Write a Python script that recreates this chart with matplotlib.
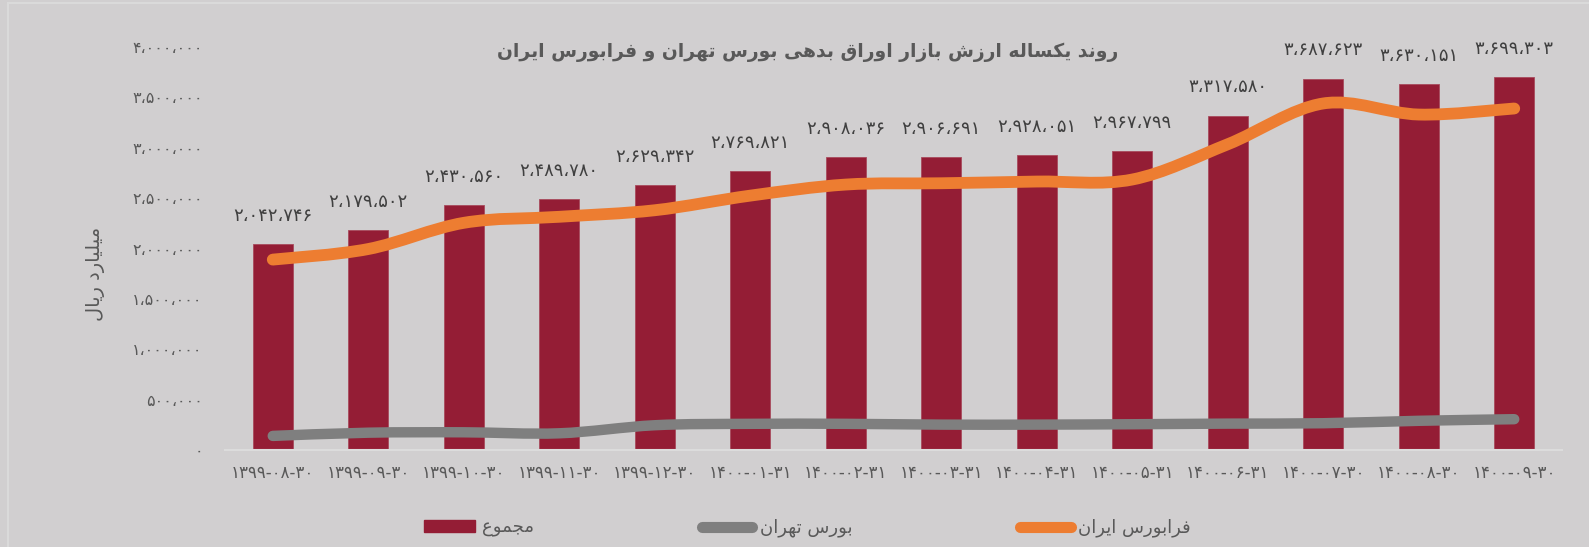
import numpy as np
import matplotlib.pyplot as plt
from matplotlib.path import Path
from matplotlib.patches import PathPatch, Rectangle
from matplotlib.lines import Line2D

plt.rcParams['font.family'] = ['DejaVu Sans']

# data (billion rials)
dates = ['1399-08-30', '1399-09-30', '1399-10-30', '1399-11-30', '1399-12-30',
         '1400-01-31', '1400-02-31', '1400-03-31', '1400-04-31', '1400-05-31',
         '1400-06-31', '1400-07-30', '1400-08-30', '1400-09-30']
total = [2042746, 2179502, 2430560, 2489780, 2629342, 2769821, 2908036,
         2906691, 2928051, 2967799, 3317580, 3687623, 3630151, 3699303]
tehran = [140000, 172000, 176000, 166000, 246000, 260000, 260000,
          252000, 252000, 256000, 262000, 266000, 290000, 306000]
farabourse = [1890000, 1995000, 2255000, 2315000, 2380000, 2525000, 2635000,
              2648000, 2665000, 2685000, 3035000, 3440000, 3330000, 3390000]
yticks = [0, 500000, 1000000, 1500000, 2000000, 2500000, 3000000, 3500000, 4000000]

title = 'روند یکساله ارزش بازار اوراق بدهی بورس تهران و فرابورس ایران'
ylabel = 'میلیارد ریال'
names = ['مجموع', 'بورس تهران', 'فرابورس ایران']

# arabic shaping: isolated, final, initial, medial
FORMS = {
    'ا': ('\uFE8D', '\uFE8E', None, None),
    'ب': ('\uFE8F', '\uFE90', '\uFE91', '\uFE92'),
    'ت': ('\uFE95', '\uFE96', '\uFE97', '\uFE98'),
    'ج': ('\uFE9D', '\uFE9E', '\uFE9F', '\uFEA0'),
    'د': ('\uFEA9', '\uFEAA', None, None),
    'ر': ('\uFEAD', '\uFEAE', None, None),
    'ز': ('\uFEAF', '\uFEB0', None, None),
    'س': ('\uFEB1', '\uFEB2', '\uFEB3', '\uFEB4'),
    'ش': ('\uFEB5', '\uFEB6', '\uFEB7', '\uFEB8'),
    'ع': ('\uFEC9', '\uFECA', '\uFECB', '\uFECC'),
    'ف': ('\uFED1', '\uFED2', '\uFED3', '\uFED4'),
    'ق': ('\uFED5', '\uFED6', '\uFED7', '\uFED8'),
    'ک': ('\uFB8E', '\uFB8F', '\uFB90', '\uFB91'),
    'ل': ('\uFEDD', '\uFEDE', '\uFEDF', '\uFEE0'),
    'م': ('\uFEE1', '\uFEE2', '\uFEE3', '\uFEE4'),
    'ن': ('\uFEE5', '\uFEE6', '\uFEE7', '\uFEE8'),
    'ه': ('\uFEE9', '\uFEEA', '\uFEEB', '\uFEEC'),
    'و': ('\uFEED', '\uFEEE', None, None),
    'ی': ('\uFBFC', '\uFBFD', '\uFBFE', '\uFBFF'),
}


def shape(text):
    out = []
    for i, c in enumerate(text):
        if c not in FORMS:
            out.append(c)
            continue
        prev = text[i - 1] if i > 0 else None
        nxt = text[i + 1] if i + 1 < len(text) else None
        jp = prev in FORMS and FORMS[prev][2] is not None
        jn = nxt in FORMS and FORMS[c][2] is not None
        iso, fin, ini, med = FORMS[c]
        if jp and jn:
            out.append(med)
        elif jp:
            out.append(fin)
        elif jn:
            out.append(ini)
        else:
            out.append(iso)
    return ''.join(reversed(out))


fa_digits = str.maketrans('0123456789', '۰۱۲۳۴۵۶۷۸۹')


def fa_num(v):
    return f'{v:,}'.replace(',', '،').translate(fa_digits)


def smooth_path(x, y):
    # excel-like smoothed line, cubic bezier through the points
    x = np.asarray(x, float)
    y = np.asarray(y, float)
    pts = np.column_stack([x, y])
    verts = [pts[0]]
    codes = [Path.MOVETO]
    n = len(pts)
    for i in range(n - 1):
        p0 = pts[max(i - 1, 0)]
        p1 = pts[i]
        p2 = pts[i + 1]
        p3 = pts[min(i + 2, n - 1)]
        c1 = p1 + (p2 - p0) / 6
        c2 = p2 - (p3 - p1) / 6
        verts += [c1, c2, p2]
        codes += [Path.CURVE4] * 3
    return Path(verts, codes)


bg = '#D1CFD0'
txt = '#595959'
bar_c = '#941D35'
gray_c = '#7F7F7F'
orange_c = '#ED7D31'

fig = plt.figure(figsize=(15.89, 5.47), dpi=100, facecolor=bg)
fig.patches.append(Rectangle((8 / 1589, -0.01), 1.0, 1 - 3 / 547 + 0.01,
                             transform=fig.transFigure, fill=False,
                             edgecolor='#DADADA', lw=1.5))
ax = fig.add_axes([0.1416, 0.1773, 0.8414, 0.7367])
ax.set_facecolor('none')

x = np.arange(len(dates))
ax.bar(x, total, width=0.42, color=bar_c, edgecolor='#A84A5C', lw=0.6, zorder=2)
for xi, v in zip(x, total):
    ax.annotate(fa_num(v), (xi, v), xytext=(0, 14), textcoords='offset points',
                ha='center', va='bottom', fontsize=13, color='#404040')

ax.add_patch(PathPatch(smooth_path(x, tehran), fill=False, edgecolor=gray_c,
                       lw=7.5, capstyle='round', joinstyle='round', zorder=3))
ax.add_patch(PathPatch(smooth_path(x, farabourse), fill=False, edgecolor=orange_c,
                       lw=8.5, capstyle='round', joinstyle='round', zorder=4))

ax.set_xlim(-0.5, len(dates) - 0.5)
ax.set_ylim(0, 4000000)
ax.set_yticks(yticks)
ax.set_yticklabels([fa_num(v) for v in yticks], fontsize=11.5, color=txt)
ax.set_xticks(x)
ax.set_xticklabels([d.translate(fa_digits) for d in dates], fontsize=12, color=txt)
ax.tick_params(axis='x', length=0, pad=10)
ax.tick_params(axis='y', length=0, pad=16)
for s in ['top', 'right', 'left']:
    ax.spines[s].set_visible(False)
ax.spines['bottom'].set_color('#DCDCDC')
ax.spines['bottom'].set_linewidth(1.5)

fig.text(0.508, 0.905, shape(title), ha='center', va='center', fontsize=13.5,
         fontweight='bold', color=txt)
fig.text(0.06, 0.5, shape(ylabel), rotation=90, ha='center', va='center',
         fontsize=14, color=txt)

handles = [Rectangle((0, 0), 1, 1, color=bar_c),
           Line2D([], [], color=gray_c, lw=8, solid_capstyle='round'),
           Line2D([], [], color=orange_c, lw=8, solid_capstyle='round')]
fig.legend(handles, [shape(n) for n in names], ncol=3, loc='center',
           bbox_to_anchor=(0.508, 0.035), frameon=False, fontsize=13,
           labelcolor=txt, handlelength=2.8, handleheight=0.6,
           columnspacing=9.3, handletextpad=0.4)

fig.savefig('out.png', dpi=100, facecolor=bg)
